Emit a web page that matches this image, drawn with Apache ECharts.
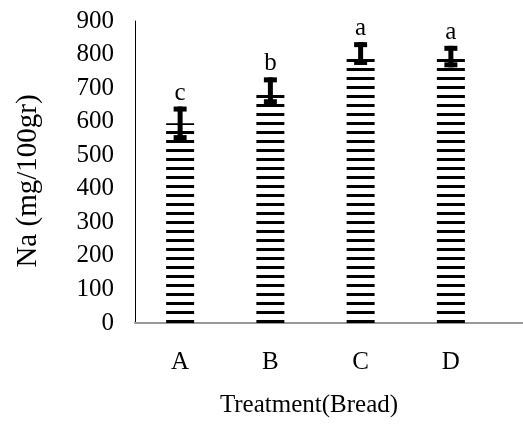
<!DOCTYPE html>
<html>
<head>
<meta charset="utf-8">
<script src="https://cdn.jsdelivr.net/npm/echarts@6/dist/echarts.min.js"></script>
<style>
html,body{margin:0;padding:0;background:#fff;}
#chart{width:523px;height:427px;}
</style>
</head>
<body>
<div id="chart"></div>
<script>
var categories = ['A', 'B', 'C', 'D'];
var naValues = [595, 692, 803, 794];
var naErrors = [50, 40, 34, 32];
var groupLetters = ['c', 'b', 'a', 'a'];
var yTicks = [0, 100, 200, 300, 400, 500, 600, 700, 800, 900];

var FONT = '"Liberation Serif", "Times New Roman", serif';

// horizontal stripe pattern for bars
var pc = document.createElement('canvas');
pc.width = 4; pc.height = 9;
var pctx = pc.getContext('2d');
pctx.fillStyle = '#ffffff';
pctx.fillRect(0, 0, 4, 9);
pctx.fillStyle = '#000000';
pctx.fillRect(0, 5, 4, 3);

var chart = echarts.init(document.getElementById('chart'), null, {renderer: 'canvas'});

var errData = categories.map(function (c, i) {
  return [i, naValues[i], naErrors[i]];
});

chart.setOption({
  animation: false,
  backgroundColor: '#ffffff',
  grid: [
    {left: 135, right: 27, top: 21, bottom: 104},
    {left: 135, right: 0, top: 21, bottom: 104}
  ],
  xAxis: [
    {
      type: 'category', gridIndex: 0, data: categories,
      axisLine: {show: false},
      axisTick: {show: false},
      axisLabel: {fontFamily: FONT, fontSize: 25, color: '#000', margin: 27}
    },
    {
      type: 'value', gridIndex: 1, min: 0, max: 1,
      axisLine: {show: true, onZero: false, lineStyle: {color: '#999', width: 2}},
      axisTick: {show: false}, axisLabel: {show: false}, splitLine: {show: false}
    }
  ],
  yAxis: [
    {
      type: 'value', gridIndex: 0, min: yTicks[0], max: yTicks[yTicks.length - 1], interval: 100,
      axisLine: {show: true, lineStyle: {color: '#000', width: 1}},
      axisTick: {show: false},
      splitLine: {show: false},
      axisLabel: {fontFamily: FONT, fontSize: 25, color: '#000', margin: 21}
    },
    {
      type: 'value', gridIndex: 1, min: 0, max: 1, show: false
    }
  ],
  graphic: [
    {
      type: 'text', x: 28, y: 181, rotation: Math.PI / 2,
      style: {text: 'Na (mg/100gr)', fontFamily: FONT, fontSize: 29, fill: '#000',
              textAlign: 'center', textVerticalAlign: 'middle'}
    },
    {
      type: 'text', x: 309, y: 405,
      style: {text: 'Treatment(Bread)', fontFamily: FONT, fontSize: 25, fill: '#000',
              textAlign: 'center', textVerticalAlign: 'middle'}
    }
  ],
  series: [
    {
      type: 'bar', xAxisIndex: 0, yAxisIndex: 0,
      data: naValues,
      barWidth: 28,
      itemStyle: {color: {image: pc, repeat: 'repeat'}}
    },
    {
      type: 'custom', xAxisIndex: 0, yAxisIndex: 0,
      data: errData,
      z: 5,
      renderItem: function (params, api) {
        var x = api.value(0), m = api.value(1), e = api.value(2);
        var top = api.coord([x, m + e]);
        var bot = api.coord([x, m - e]);
        var cx = top[0];
        var capW = 13, capH = 5, stemW = 5;
        return {
          type: 'group',
          children: [
            {type: 'rect', shape: {x: cx - stemW / 2, y: top[1], width: stemW, height: bot[1] - top[1]}, style: {fill: '#000'}},
            {type: 'rect', shape: {x: cx - capW / 2, y: top[1], width: capW, height: capH}, style: {fill: '#000'}},
            {type: 'rect', shape: {x: cx - capW / 2, y: bot[1] - capH, width: capW, height: capH}, style: {fill: '#000'}},
            {type: 'text', x: cx, y: top[1] - 1,
             style: {text: groupLetters[params.dataIndex], fontFamily: FONT, fontSize: 25, fill: '#000',
                     textAlign: 'center', textVerticalAlign: 'bottom'}}
          ]
        };
      }
    }
  ]
});
</script>
</body>
</html>
